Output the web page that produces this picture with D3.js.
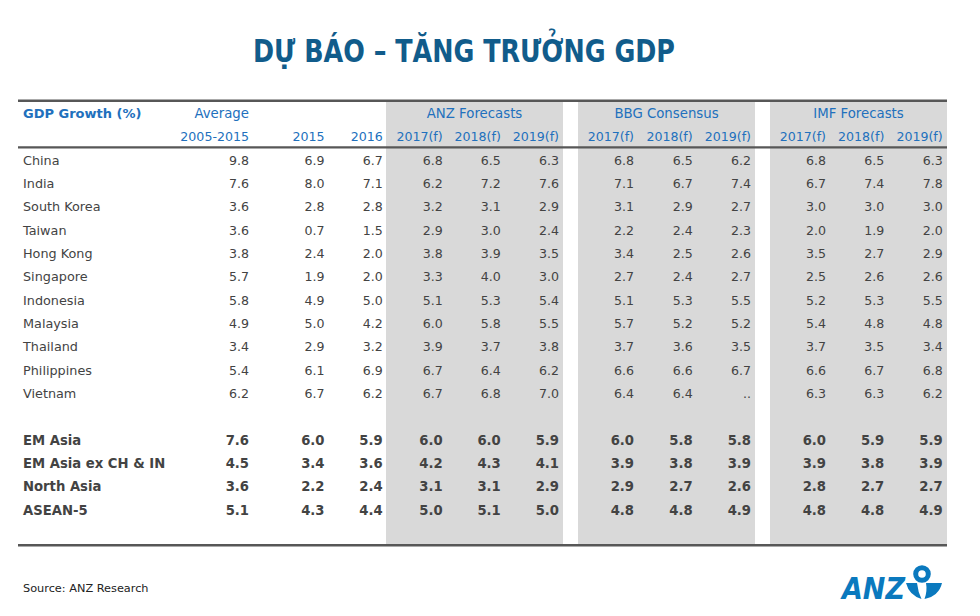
<!DOCTYPE html>
<html><head><meta charset="utf-8">
<script src="https://cdn.jsdelivr.net/npm/d3@7"></script>
<style>
html,body{margin:0;padding:0;background:#fff;}
svg{display:block;}
</style></head>
<body>
<svg id="chart" width="980" height="616"></svg>
<script>
// ---------- DATA ----------
const title = "DỰ BÁO – TĂNG TRƯỞNG GDP";
const rowHeader = "GDP Growth (%)";
const groupLabels = ["ANZ Forecasts", "BBG Consensus", "IMF Forecasts"];
const colHeadTop = ["Average", "", ""];
const colLabels = ["2005-2015", "2015", "2016",
  "2017(f)", "2018(f)", "2019(f)",
  "2017(f)", "2018(f)", "2019(f)",
  "2017(f)", "2018(f)", "2019(f)"];

const countries = ["China","India","South Korea","Taiwan","Hong Kong","Singapore","Indonesia","Malaysia","Thailand","Philippines","Vietnam"];
const avg0515 = [9.8,7.6,3.6,3.6,3.8,5.7,5.8,4.9,3.4,5.4,6.2];
const gdp2015 = [6.9,8.0,2.8,0.7,2.4,1.9,4.9,5.0,2.9,6.1,6.7];
const gdp2016 = [6.7,7.1,2.8,1.5,2.0,2.0,5.0,4.2,3.2,6.9,6.2];
const anz2017 = [6.8,6.2,3.2,2.9,3.8,3.3,5.1,6.0,3.9,6.7,6.7];
const anz2018 = [6.5,7.2,3.1,3.0,3.9,4.0,5.3,5.8,3.7,6.4,6.8];
const anz2019 = [6.3,7.6,2.9,2.4,3.5,3.0,5.4,5.5,3.8,6.2,7.0];
const bbg2017 = [6.8,7.1,3.1,2.2,3.4,2.7,5.1,5.7,3.7,6.6,6.4];
const bbg2018 = [6.5,6.7,2.9,2.4,2.5,2.4,5.3,5.2,3.6,6.6,6.4];
const bbg2019 = [6.2,7.4,2.7,2.3,2.6,2.7,5.5,5.2,3.5,6.7,null];
const imf2017 = [6.8,6.7,3.0,2.0,3.5,2.5,5.2,5.4,3.7,6.6,6.3];
const imf2018 = [6.5,7.4,3.0,1.9,2.7,2.6,5.3,4.8,3.5,6.7,6.3];
const imf2019 = [6.3,7.8,3.0,2.0,2.9,2.6,5.5,4.8,3.4,6.8,6.2];

const regions = ["EM Asia","EM Asia ex CH & IN","North Asia","ASEAN-5"];
const regAvg     = [7.6,4.5,3.6,5.1];
const reg2015    = [6.0,3.4,2.2,4.3];
const reg2016    = [5.9,3.6,2.4,4.4];
const regAnz2017 = [6.0,4.2,3.1,5.0];
const regAnz2018 = [6.0,4.3,3.1,5.1];
const regAnz2019 = [5.9,4.1,2.9,5.0];
const regBbg2017 = [6.0,3.9,2.9,4.8];
const regBbg2018 = [5.8,3.8,2.7,4.8];
const regBbg2019 = [5.8,3.9,2.6,4.9];
const regImf2017 = [6.0,3.9,2.8,4.8];
const regImf2018 = [5.9,3.8,2.7,4.8];
const regImf2019 = [5.9,3.9,2.7,4.9];

const sourceText = "Source: ANZ Research";

// ---------- LAYOUT ----------
const svg = d3.select("#chart");
const FONT = "'DejaVu Sans', Verdana, sans-serif";
const BLUE = "#2170bd";
const GREY = "#434343";
const RULE = "#575757";
const BAND = "#d9d9d9";

const colKeys = d3.range(colLabels.length);
const colX = d3.scaleOrdinal().domain(colKeys)
  .range([249, 324.5, 382.7, 442.7, 500.8, 559, 634, 692.7, 751, 826, 884.3, 942.7]);

const bandX = d3.scaleOrdinal().domain([0,1,2]).range([[386,563],[578,755],[770,947]]);

const rowY = d3.scaleLinear().domain([0, 15]).range([164.5, 514.6]);

const tableLeft = 18, tableRight = 947;
const topRule = 100.8, headRule = 147.4, bottomRule = 545.2;
const headY1 = 118, headY2 = 141;

// grey bands
svg.append("g").selectAll("rect").data(groupLabels).join("rect")
  .attr("x", (d,i) => bandX(i)[0])
  .attr("width", (d,i) => bandX(i)[1] - bandX(i)[0])
  .attr("y", topRule)
  .attr("height", bottomRule - topRule)
  .attr("fill", BAND);

// rules
const rules = svg.append("g");
[[topRule, 2.4],[headRule, 2.2],[bottomRule, 2.4]].forEach(([y,w]) => {
  rules.append("line").attr("x1", tableLeft).attr("x2", tableRight)
    .attr("y1", y).attr("y2", y).attr("stroke", RULE).attr("stroke-width", w);
});

// title
svg.append("text").attr("x", 253).attr("y", 61.5)
  .attr("font-family", "'DejaVu Sans Condensed', 'DejaVu Sans', sans-serif")
  .attr("font-weight", "bold").attr("font-size", 32.5)
  .attr("textLength", 422).attr("lengthAdjust", "spacingAndGlyphs")
  .attr("fill", "#115c8b")
  .text(title);

// headers
const head = svg.append("g").attr("font-family", FONT).attr("fill", BLUE);
head.append("text").attr("x", 23).attr("y", headY1)
  .attr("font-weight", "bold").attr("font-size", 13).text(rowHeader);
head.selectAll("text.grp").data(groupLabels).join("text").attr("class","grp")
  .attr("x", (d,i) => (bandX(i)[0] + bandX(i)[1]) / 2)
  .attr("y", headY1).attr("text-anchor", "middle").attr("font-size", 13.3)
  .text(d => d);
head.selectAll("text.top").data(colHeadTop).join("text").attr("class","top")
  .attr("x", (d,i) => colX(i)).attr("y", headY1)
  .attr("text-anchor", "end").attr("font-size", 13.3).text(d => d);
head.selectAll("text.col").data(colLabels).join("text").attr("class","col")
  .attr("x", (d,i) => colX(i)).attr("y", headY2)
  .attr("text-anchor", "end").attr("font-size", 12.6).text(d => d);

// body
const fmt = v => (v === null || v === undefined) ? ".." : d3.format(".1f")(v);
const countryCols = [avg0515, gdp2015, gdp2016, anz2017, anz2018, anz2019, bbg2017, bbg2018, bbg2019, imf2017, imf2018, imf2019];
const regionCols = [regAvg, reg2015, reg2016, regAnz2017, regAnz2018, regAnz2019, regBbg2017, regBbg2018, regBbg2019, regImf2017, regImf2018, regImf2019];

const rows = [];
countries.forEach((c, r) => rows.push({label: c, idx: r, bold: false, vals: countryCols.map(a => a[r])}));
regions.forEach((c, r) => rows.push({label: c, idx: countries.length + 1 + r, bold: true, vals: regionCols.map(a => a[r])}));

const body = svg.append("g").attr("font-family", FONT).attr("fill", GREY);
const rowG = body.selectAll("g.row").data(rows).join("g").attr("class","row")
  .attr("font-weight", d => d.bold ? "bold" : "normal");
rowG.append("text").attr("x", 23).attr("y", d => rowY(d.idx))
  .attr("font-size", d => d.bold ? 13.2 : 12.8).text(d => d.label);
rowG.selectAll("text.v").data(d => d.vals.map((v,i) => ({v, i, idx: d.idx, bold: d.bold}))).join("text")
  .attr("class","v")
  .attr("font-size", d => d.bold ? 13.2 : 12.6)
  .attr("x", d => colX(d.i)).attr("y", d => rowY(d.idx))
  .attr("text-anchor", "end").text(d => fmt(d.v));

// source
svg.append("text").attr("x", 23).attr("y", 591.5)
  .attr("font-family", FONT).attr("font-size", 11.3).attr("fill", "#222")
  .text(sourceText);

// ANZ logo
const logo = svg.append("g").attr("fill", "#0a79be");
logo.append("text").attr("x", 842).attr("y", 598.5)
  .attr("font-family", "'DejaVu Sans', sans-serif").attr("font-weight", "bold")
  .attr("font-style", "italic").attr("font-size", 31)
  .attr("textLength", 63).attr("lengthAdjust", "spacingAndGlyphs")
  .text("ANZ");
logo.append("circle").attr("cx", 922).attr("cy", 574).attr("r", 6.3)
  .attr("fill", "none").attr("stroke", "#0a79be").attr("stroke-width", 5);
logo.append("path").attr("d", "M906,583 L917,583 Q918,592 921.5,599 Q909,595 906,583 Z");
logo.append("path").attr("d", "M926,583 L942,583 Q939,596 924.5,599 Q927.5,591 926,583 Z");
</script>
</body></html>
